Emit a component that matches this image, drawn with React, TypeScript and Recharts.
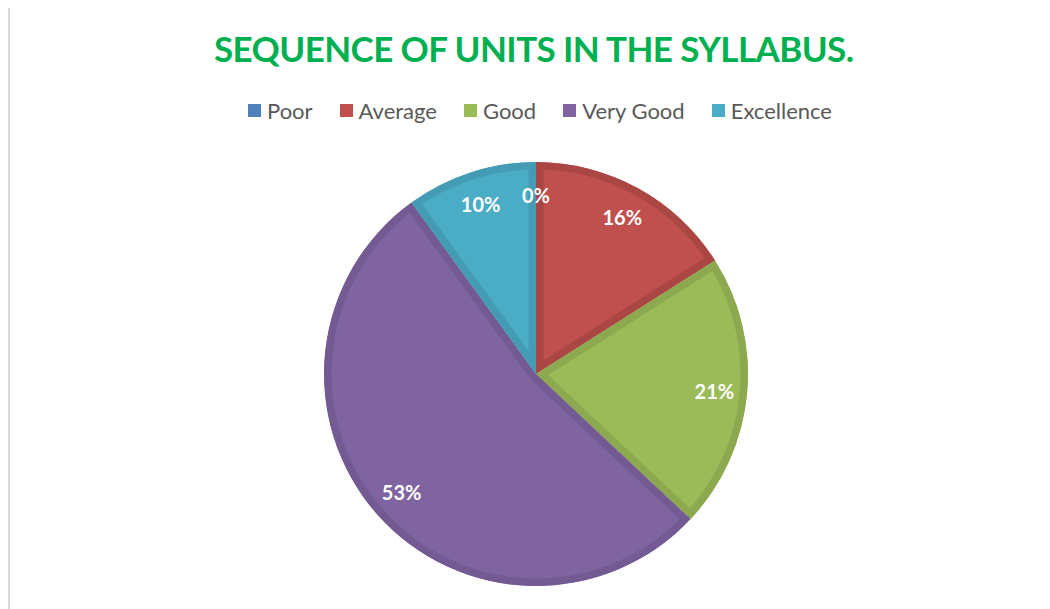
import { PieChart, Pie, Cell, Sector } from "recharts";

const categories = ["Poor", "Average", "Good", "Very Good", "Excellence"];
const percentages = [0, 16, 21, 53, 10];
const fills = ["#4F81BD", "#C0504D", "#9BBB59", "#8064A2", "#4BACC6"];
const borders = ["#4675AB", "#AA4744", "#8CA950", "#745A93", "#449CB4"];

const data = categories.map((name, i) => ({ name, value: percentages[i] }));

const RAD = Math.PI / 180;

function renderSlice(props: any) {
  const { cx, cy, innerRadius, outerRadius, startAngle, endAngle, index } = props;
  const id = `slice-clip-${index}`;
  return (
    <g>
      <defs>
        <clipPath id={id}>
          <Sector
            cx={cx}
            cy={cy}
            innerRadius={innerRadius}
            outerRadius={outerRadius}
            startAngle={startAngle}
            endAngle={endAngle}
          />
        </clipPath>
      </defs>
      <g clipPath={`url(#${id})`}>
        <Sector
          cx={cx}
          cy={cy}
          innerRadius={innerRadius}
          outerRadius={outerRadius}
          startAngle={startAngle}
          endAngle={endAngle}
          fill={fills[index]}
          stroke={borders[index]}
          strokeWidth={15}
        />
      </g>
    </g>
  );
}

function renderLabel(props: any) {
  const { cx, cy, midAngle, outerRadius, index } = props;
  const r = outerRadius * 0.845;
  const x = cx + r * Math.cos(-midAngle * RAD);
  const y = cy + r * Math.sin(-midAngle * RAD);
  return (
    <text
      x={x}
      y={y}
      fill="#ffffff"
      textAnchor="middle"
      dominantBaseline="central"
      fontFamily="Lato, sans-serif"
      fontWeight={700}
      fontSize={20}
    >
      {`${percentages[index]}%`}
    </text>
  );
}

function LegendRow() {
  return (
    <div
      style={{
        position: "absolute",
        top: 89,
        left: 0,
        width: 1040,
        display: "flex",
        justifyContent: "center",
        gap: 27,
        fontFamily: "Lato, sans-serif",
        fontSize: 22,
        color: "#595959",
        paddingLeft: 20,
        boxSizing: "border-box",
      }}
    >
      {categories.map((c, i) => (
        <div key={c} style={{ display: "flex", alignItems: "center" }}>
          <span
            style={{
              display: "inline-block",
              width: 13,
              height: 13,
              background: fills[i],
              marginRight: 6,
            }}
          />
          <span>{c}</span>
        </div>
      ))}
    </div>
  );
}

export default function App() {
  return (
    <div
      style={{
        position: "relative",
        width: 1042,
        height: 601,
        borderLeft: "2px solid #d9d9d9",
        boxSizing: "border-box",
        background: "#ffffff",
      }}
    >
      <svg width={1040} height={80} style={{ position: "absolute", left: 0, top: 0 }}>
        <text
          x={204}
          y={54}
          textLength={640}
          lengthAdjust="spacing"
          fontFamily="Lato, sans-serif"
          fontWeight={700}
          fontSize={35}
          fill="#00B050"
        >
          SEQUENCE OF UNITS IN THE SYLLABUS.
        </text>
      </svg>
      <LegendRow />
      <PieChart width={1040} height={601} style={{ position: "absolute", left: 0, top: 0 }}>
        <Pie
          data={data}
          dataKey="value"
          nameKey="name"
          cx={521}
          cy={361}
          outerRadius={212}
          startAngle={90}
          endAngle={-270}
          stroke="none"
          shape={renderSlice}
          label={renderLabel}
          labelLine={false}
          isAnimationActive={false}
        >
          {data.map((d, i) => (
            <Cell key={d.name} fill={fills[i]} />
          ))}
        </Pie>
      </PieChart>
    </div>
  );
}
